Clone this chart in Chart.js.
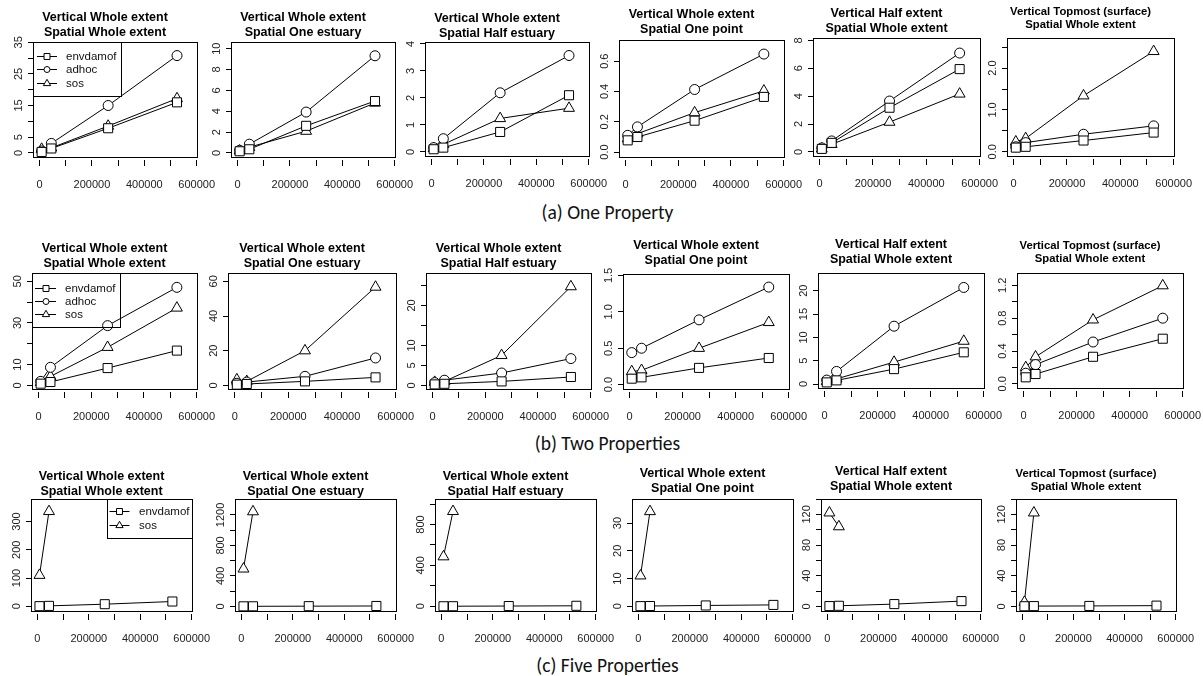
<!DOCTYPE html>
<html>
<head>
<meta charset="utf-8">
<script src="https://cdn.jsdelivr.net/npm/chart.js@4.4.1/dist/chart.umd.min.js"></script>
<style>
html, body { margin: 0; padding: 0; background: #fff; }
body { width: 1203px; height: 676px; position: relative; overflow: hidden; }
canvas { position: absolute; }
.cap { position: absolute; left: 6px; width: 1203px; text-align: center;
       font-family: 'Carlito', 'Lato', 'Liberation Sans', sans-serif; font-size: 19.5px;
       color: #111; line-height: 24px; }
</style>
</head>
<body>
<script>
// ---------------- data ----------------
const xValues = [8000, 45000, 262000, 525000];
const xTicks = [0, 100000, 200000, 300000, 400000, 500000, 600000];
const xTickLabels = ['0', '', '200000', '', '400000', '', '600000'];

const verticalTitles = ['Vertical Whole extent', 'Vertical Whole extent', 'Vertical Whole extent',
  'Vertical Whole extent', 'Vertical Half extent', 'Vertical Topmost (surface)'];
const spatialTitles = ['Spatial Whole extent', 'Spatial One estuary', 'Spatial Half estuary',
  'Spatial One point', 'Spatial Whole extent', 'Spatial Whole extent'];
const sectionCaptions = ['(a) One Property', '(b) Two Properties', '(c) Five Properties'];

// (a) One property
const oneEnvdamof = [[0.3, 1.4, 7.8, 16.0], [0.16, 0.35, 2.6, 4.98], [0.1, 0.16, 0.74, 2.10],
  [0.077, 0.099, 0.207, 0.364], [0.22, 0.65, 3.17, 5.94], [0.1, 0.12, 0.27, 0.46]];
const oneAdhoc = [[0.6, 3.0, 15.0, 30.8], [0.25, 0.84, 3.92, 9.32], [0.16, 0.49, 2.19, 3.57],
  [0.11, 0.166, 0.413, 0.647], [0.29, 0.79, 3.65, 7.09], [0.12, 0.22, 0.42, 0.62]];
const oneSos = [[1.2, 1.6, 8.5, 17.2], [0.2, 0.55, 2.09, 4.79], [0.13, 0.28, 1.24, 1.62],
  [0.088, 0.121, 0.26, 0.404], [0.22, 0.55, 2.14, 4.16], [0.24, 0.32, 1.34, 2.4]];
const oneYTicks = [[0, 5, 10, 15, 20, 25, 30, 35], [0, 2, 4, 6, 8, 10], [0, 1, 2, 3, 4],
  [0, 0.2, 0.4, 0.6], [0, 2, 4, 6, 8], [0, 0.5, 1, 1.5, 2, 2.5]];
const oneYLabels = [['0', '5', '', '15', '', '25', '', '35'], ['0', '2', '4', '6', '8', '10'],
  ['0', '1', '2', '3', '4'], ['0.0', '0.2', '0.4', '0.6'], ['0', '2', '4', '6', '8'],
  ['0.0', '', '1.0', '', '2.0', '']];
const oneYRange = [[-1.3, 35.1], [-0.39, 10.64], [-0.15, 4.07], [-0.033, 0.74], [-0.29, 8.17], [-0.1, 2.72]];

// (b) Two properties
const twoEnvdamof = [[0.8, 1.6, 8.3, 16.7], [0.4, 0.8, 2.3, 4.6], [0.25, 0.4, 1.0, 2.1],
  [0.082, 0.10, 0.23, 0.366], [0.35, 0.78, 3.2, 6.8], [0.08, 0.12, 0.33, 0.55]];
const twoAdhoc = [[1.9, 8.65, 28.7, 47.1], [1.2, 1.9, 5.2, 15.8], [0.7, 1.3, 3.1, 6.7],
  [0.44, 0.50, 0.89, 1.34], [0.85, 2.7, 12.4, 20.7], [0.13, 0.235, 0.51, 0.80]];
const twoSos = [[1.4, 4.3, 18.3, 37.2], [3.3, 2.3, 20.0, 56.7], [0.8, 1.0, 7.5, 24.7],
  [0.18, 0.197, 0.50, 0.855], [0.57, 1.1, 4.7, 9.2], [0.2, 0.33, 0.78, 1.196]];
const twoYTicks = [[0, 10, 20, 30, 40, 50], [0, 20, 40, 60], [0, 5, 10, 15, 20, 25],
  [0, 0.5, 1.0, 1.5], [0, 5, 10, 15, 20], [0, 0.2, 0.4, 0.6, 0.8, 1.0, 1.2]];
const twoYLabels = [['0', '10', '', '30', '', '50'], ['0', '20', '40', '60'], ['0', '5', '10', '', '20', ''],
  ['0.0', '0.5', '1.0', '1.5'], ['0', '5', '10', '15', '20'], ['0.0', '', '0.4', '', '0.8', '', '1.2']];
const twoYRange = [[-1.76, 54], [-2.1, 64.8], [-0.9, 28.1], [-0.06, 1.52], [-0.85, 23.8], [-0.05, 1.35]];

// (c) Five properties
const fiveEnvdamof = [[0.5, 1.5, 7.5, 17], [0.3, 0.8, 2.5, 5], [0.3, 0.8, 2.5, 5],
  [0.05, 0.1, 0.3, 0.5], [0.4, 0.8, 3.0, 6.9], [0.2, 0.4, 0.6, 1.0]];
const fiveSos = [[110, 335.7], [492, 1244], [485, 928], [11.0, 34.2], [122, 104], [5.6, 122]];
const fiveYTicks = [[0, 100, 200, 300], [0, 200, 400, 600, 800, 1000, 1200], [0, 200, 400, 600, 800, 1000],
  [0, 10, 20, 30], [0, 20, 40, 60, 80, 100, 120, 140], [0, 20, 40, 60, 80, 100, 120, 140]];
const fiveYLabels = [['0', '100', '200', '300'], ['0', '', '400', '', '800', '', '1200'],
  ['0', '', '400', '', '800', ''], ['0', '10', '20', '30'],
  ['0', '', '40', '', '80', '', '120', ''], ['0', '', '40', '', '80', '', '120', '']];
const fiveYRange = [[-16.6, 379.6], [-61, 1410], [-46, 1049], [-1.7, 38.7], [-6, 140], [-6, 140]];

// ---------------- layout (page positions of the plot boxes) ----------------
const rowBoxes = [
  [[33, 42, 201, 157], [231, 42, 399, 157], [425, 42, 593, 156], [619, 40, 788, 157], [813, 38, 984, 156], [1007, 38, 1178, 156]],
  [[32, 273, 201, 389], [228, 273, 400, 389], [426, 273, 595, 389], [623, 274, 793, 389], [818, 273, 988, 388], [1017, 273, 1187, 388]],
  [[31, 499, 196, 611], [235, 499, 400, 611], [435, 499, 600, 611], [632, 499, 797, 611], [821, 499, 985, 611], [1016, 499, 1180, 611]]
];
const rowTitleGap = [[9, 9, 8.7, 10, 9.7, 13], [9, 9, 9.3, 13, 13.3, 13.7], [7.7, 7.7, 7.7, 10, 12.7, 11.7]];
const captionCenters = [212, 443, 665];
const legendCfg = [
  { corner: 'left', w: 88, h: 54, first: 14, step: 13.4, lineX: [4, 24], markX: 14, textX: 33 },
  { corner: 'left', w: 88, h: 54, first: 14.5, step: 13.3, lineX: [3, 24], markX: 14, textX: 33 },
  { corner: 'right', w: 85, h: 39, first: 12.4, step: 14, lineX: [2.5, 22.5], markX: 12.5, textX: 32 }
];

const FONT = "'Liberation Sans', Arial, Helvetica, sans-serif";
const TICK_SIZE = 11;
const STYLE = {
  envdamof: { pointStyle: 'rect', pointRadius: 6.4, legendRadius: 4.2 },
  adhoc: { pointStyle: 'circle', pointRadius: 5, legendRadius: 3 },
  sos: { pointStyle: 'triangle', pointRadius: 6.3, legendRadius: 4.2 }
};

const measureCtx = document.createElement('canvas').getContext('2d');
function textW(s, size) { measureCtx.font = size + 'px ' + FONT; return measureCtx.measureText(s).width; }

sectionCaptions.forEach((c, i) => {
  const d = document.createElement('div');
  d.className = 'cap';
  d.textContent = c;
  d.style.top = (captionCenters[i] - 12) + 'px';
  document.body.appendChild(d);
});

const boxPlugin = {
  id: 'rbox',
  afterDraw(chart) {
    const { ctx, chartArea: a } = chart;
    ctx.save();
    // small gap between plot box and the x-axis tick marks (R style)
    ctx.clearRect(a.left - 1, Math.round(a.bottom) + 1, a.right - a.left + 2, 2);
    ctx.strokeStyle = '#000';
    ctx.lineWidth = 1;
    ctx.strokeRect(Math.round(a.left) + 0.5, Math.round(a.top) + 0.5,
      Math.round(a.right) - Math.round(a.left), Math.round(a.bottom) - Math.round(a.top));
    ctx.restore();
  }
};

function drawMarker(ctx, style, r, x, y) {
  if (Chart.helpers && Chart.helpers.drawPoint) {
    Chart.helpers.drawPoint(ctx, { pointStyle: style, radius: r, borderWidth: 1, rotation: 0 }, x, y);
    return;
  }
  ctx.beginPath();
  if (style === 'circle') ctx.arc(x, y, r, 0, Math.PI * 2);
  else if (style === 'rect') { const s = r * Math.SQRT1_2; ctx.rect(x - s, y - s, 2 * s, 2 * s); }
  else { ctx.moveTo(x, y - r); ctx.lineTo(x + r * 0.866, y + r / 2); ctx.lineTo(x - r * 0.866, y + r / 2); ctx.closePath(); }
  ctx.fill(); ctx.stroke();
}

function legendPlugin(cfg) {
  return {
    id: 'rlegend',
    afterDatasetsDraw(chart) {
      const { ctx, chartArea: a } = chart;
      const x0 = Math.round(cfg.corner === 'left' ? a.left : a.right - cfg.w);
      const y0 = Math.round(a.top);
      ctx.save();
      ctx.strokeStyle = '#000';
      ctx.lineWidth = 1;
      ctx.strokeRect(x0 + 0.5, y0 + 0.5, Math.round(cfg.w), Math.round(cfg.h));
      chart.data.datasets.forEach((ds, i) => {
        const y = Math.round(y0 + cfg.first + i * cfg.step) + 0.5;
        ctx.strokeStyle = '#000';
        ctx.beginPath();
        ctx.moveTo(x0 + cfg.lineX[0], y);
        ctx.lineTo(x0 + cfg.lineX[1], y);
        ctx.stroke();
        ctx.fillStyle = '#fff';
        drawMarker(ctx, STYLE[ds.label].pointStyle, STYLE[ds.label].legendRadius, x0 + cfg.markX, y);
        ctx.fillStyle = '#111';
        ctx.font = '11.5px ' + FONT;
        ctx.textAlign = 'left';
        ctx.textBaseline = 'middle';
        ctx.fillText(ds.label, x0 + cfg.textX, y);
      });
      ctx.restore();
    }
  };
}

function makePanel(row, i, series, yTicks, yLabels, yRange) {
  const [l, t, r, b] = rowBoxes[row][i];
  const bw = r - l, bh = b - t;
  const SIDE = 26, TOP = 50, BOTTOM = 40;
  const cv = document.createElement('canvas');
  cv.width = bw + 2 * SIDE;
  cv.height = TOP + bh + BOTTOM;
  cv.style.left = (l - SIDE) + 'px';
  cv.style.top = (t - TOP) + 'px';
  cv.style.width = cv.width + 'px';
  cv.style.height = cv.height + 'px';
  document.body.appendChild(cv);

  const isTop = verticalTitles[i].indexOf('Topmost') >= 0;
  const tSize = isTop ? 11.3 : 12.5;
  const lh = tSize * 1.2;
  const padB = rowTitleGap[row][i] - lh / 2;
  const padT = TOP - 2 * lh - padB;

  const widest = Math.max(...yLabels.map(s => textW(s, TICK_SIZE)));
  const yPad = 9 - widest / 2;

  const datasets = series.map(s => ({
    label: s.name,
    data: s.values.map((v, k) => ({ x: xValues[k], y: v })),
    borderColor: '#000',
    borderWidth: 1,
    pointStyle: STYLE[s.name].pointStyle,
    pointRadius: STYLE[s.name].pointRadius,
    pointBorderWidth: 1,
    pointBorderColor: '#000',
    pointBackgroundColor: '#fff',
    tension: 0,
    fill: false
  }));

  const plugins = [boxPlugin];
  if (i === 0) plugins.push(legendPlugin(legendCfg[row]));

  new Chart(cv, {
    type: 'line',
    data: { datasets },
    plugins,
    options: {
      responsive: false,
      animation: false,
      devicePixelRatio: 1,
      events: [],
      layout: { padding: { left: 2, right: SIDE, top: 0, bottom: 0 } },
      plugins: {
        legend: { display: false },
        tooltip: { enabled: false },
        title: {
          display: true,
          text: [verticalTitles[i], spatialTitles[i]],
          color: '#000',
          font: { family: FONT, size: tSize, weight: 'bold', lineHeight: 1.2 },
          padding: { top: padT, bottom: padB }
        }
      },
      scales: {
        x: {
          type: 'linear',
          min: -25000,
          max: 600000,
          afterBuildTicks: s => { s.ticks = xTicks.map(v => ({ value: v })); },
          afterFit: s => { s.height = BOTTOM; },
          border: { display: false },
          grid: { drawOnChartArea: false, drawTicks: true, tickLength: 9, color: '#000', lineWidth: 1 },
          ticks: {
            autoSkip: false, maxRotation: 0, minRotation: 0, padding: 12,
            color: '#222', font: { family: FONT, size: TICK_SIZE },
            callback: (v, k) => xTickLabels[k]
          }
        },
        y: {
          type: 'linear',
          min: yRange[0],
          max: yRange[1],
          afterBuildTicks: s => { s.ticks = yTicks.map(v => ({ value: v })); },
          afterFit: s => { s.width = 24; },
          border: { display: false },
          grid: { drawOnChartArea: false, drawTicks: true, tickLength: 5, color: '#000', lineWidth: 1 },
          ticks: {
            autoSkip: false, minRotation: 90, maxRotation: 90, crossAlign: 'center', padding: yPad,
            color: '#222', font: { family: FONT, size: TICK_SIZE },
            callback: (v, k) => yLabels[k]
          }
        }
      }
    }
  });
}

for (let i = 0; i < 6; i++) {
  makePanel(0, i, [
    { name: 'envdamof', values: oneEnvdamof[i] },
    { name: 'adhoc', values: oneAdhoc[i] },
    { name: 'sos', values: oneSos[i] }
  ], oneYTicks[i], oneYLabels[i], oneYRange[i]);
  makePanel(1, i, [
    { name: 'envdamof', values: twoEnvdamof[i] },
    { name: 'adhoc', values: twoAdhoc[i] },
    { name: 'sos', values: twoSos[i] }
  ], twoYTicks[i], twoYLabels[i], twoYRange[i]);
  makePanel(2, i, [
    { name: 'envdamof', values: fiveEnvdamof[i] },
    { name: 'sos', values: fiveSos[i] }
  ], fiveYTicks[i], fiveYLabels[i], fiveYRange[i]);
}
</script>
</body>
</html>
